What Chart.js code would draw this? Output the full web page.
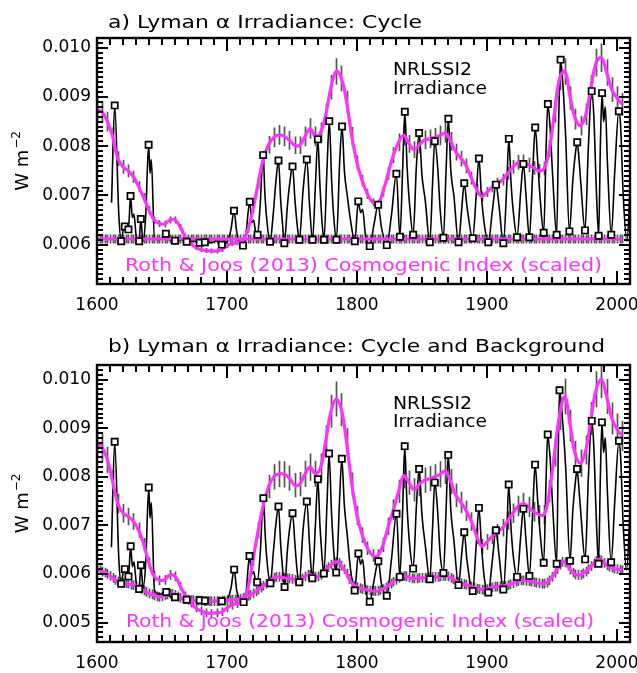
<!DOCTYPE html>
<html><head><meta charset="utf-8">
<script src="https://cdn.jsdelivr.net/npm/chart.js@4.4.0/dist/chart.umd.min.js"></script>
<style>
html,body{margin:0;padding:0;background:#fff;}
#wrap{position:relative;width:637px;height:673px;overflow:hidden;}
canvas{position:absolute;left:0;}
#ca{top:0;} #cb{top:320px;}
</style></head><body>
<div id="wrap"><canvas id="ca" width="637" height="320"></canvas><canvas id="cb" width="637" height="353"></canvas></div>
<script>
// all irradiance values in units of 1e-3 W m^-2
const yearTicks = [1600, 1700, 1800, 1900, 2000];
const yTicksA = [6, 7, 8, 9, 10];
const yTicksB = [5, 6, 7, 8, 9, 10];

// NRLSSI2 cycle irradiance: [year, value, square-marker flag]
const cycleA = [[1611.2,6.85],[1613.6,8.83,1],[1616.8,6.6],[1618.6,6.07,1],[1620.2,6.3],[1621.4,6.37,1],[1622.6,6.4],[1624.2,6.31,1],[1625.8,6.99,1],[1627.2,6.55],[1628.4,6.62],[1630.5,6.1],[1632.4,6.07,1],[1633.7,6.52,1],[1635.4,6.07],[1637.5,6.6],[1639.7,8.03,1],[1640.8,7.45],[1641.8,7.73],[1644.2,6.12],[1648,6.1],[1650.5,6.15],[1653,6.22,1],[1655.5,6.1],[1660,6.08,1],[1664,6.1],[1669,6.06,1],[1674,6.08],[1679,6.04,1],[1683,6.05,1],[1688,6.04],[1692,6.08],[1696,6.0,1],[1700,6.06],[1703,6.3],[1705.4,6.69,1],[1707.5,6.25],[1709.5,6.05],[1712.3,5.98,1],[1714.5,6.2],[1717.5,6.87,1],[1719,6.45],[1720.5,6.5],[1722,6.25],[1723.5,6.2,1],[1725.5,6.8],[1727.8,7.82,1],[1729.2,7.0],[1731,6.4],[1733.1,6.06,1],[1735.5,6.6],[1737.5,7.25],[1739.6,7.71,1],[1741.3,6.9],[1742.8,6.4],[1744.1,6.03,1],[1746.5,6.8],[1748.5,7.3],[1750.4,7.59,1],[1752.3,6.9],[1754,6.4],[1755.7,6.1,1],[1758.5,7.1],[1761.4,7.73,1],[1763.5,6.8],[1765.8,6.1,1],[1768,7.2],[1769.9,8.14,1],[1771.5,7.2],[1773,6.5],[1774.6,6.1,1],[1777,7.6],[1778.7,8.51,1],[1780.5,7.3],[1782.3,6.5],[1784.2,6.1,1],[1786.7,7.7],[1788.5,8.4,1],[1790.3,7.5],[1792.5,7.0],[1795,6.5],[1798.3,6.07,1],[1801,6.88,1],[1802.8,6.65],[1804.3,6.72],[1806.5,6.2],[1809.8,5.97,1],[1813,6.4],[1816.3,6.81,1],[1818.8,6.35],[1822.9,5.99,1],[1826.5,6.6],[1830.3,7.44,1],[1833,6.16,1],[1835.2,7.6],[1836.8,8.7,1],[1838.5,7.6],[1840.5,6.8],[1843.2,6.2,1],[1845.7,7.6],[1847.8,8.27,1],[1850,7.4],[1852.5,6.9],[1856,6.05,1],[1858.2,7.3],[1859.8,8.1,1],[1862,7.6],[1864,6.7],[1866.5,6.14,1],[1868.5,7.5],[1870.3,8.56,1],[1872.2,7.5],[1874.5,7.0],[1878.1,6.05,1],[1880.5,6.7],[1882.5,7.25,1],[1884.5,6.8],[1889,6.13,1],[1891.7,7.0],[1893.8,7.75,1],[1895.7,7.0],[1898,6.4],[1901,6.05,1],[1904.2,6.7],[1906.9,7.22,1],[1909.2,6.8],[1912.6,6.03,1],[1915.2,7.2],[1916.8,8.15,1],[1918.6,7.2],[1920.5,6.6],[1923.1,6.15,1],[1926,7.1],[1928,7.64,1],[1930,7.0],[1932.6,6.15,1],[1935.2,7.5],[1937.1,8.38,1],[1939,7.7],[1941,6.9],[1943.6,6.24,1],[1945.5,8.0],[1946.8,8.86,1],[1948.5,8.4],[1950.5,7.4],[1953.6,6.2,1],[1955.2,8.6],[1956.6,9.76,1],[1958.5,9.2],[1960.5,8.2],[1963.4,6.27,1],[1966,7.3],[1968.2,7.9],[1969.4,8.08,1],[1970.6,7.8],[1972.3,7.2],[1975.4,6.29,1],[1978,8.0],[1980.5,9.12,1],[1982.2,8.6],[1984,7.2],[1985.9,6.18,1],[1987.2,8.0],[1988.5,9.08,1],[1989.7,8.5],[1991,8.8],[1992.6,7.7],[1995.6,6.2,1],[1998.3,7.5],[2001.4,8.71,1],[2002.8,8.4],[2004.8,7.0],[2007.6,6.07],[2010.5,7.4]];

const cycleB = [[1611.1,6.55],[1613.6,8.72,1],[1616.8,6.3],[1618.6,5.8,1],[1620.2,6.05],[1621.4,6.1,1],[1622.6,6.05],[1624.2,5.95,1],[1625.9,6.57,1],[1627.2,6.15],[1628.4,6.25],[1630.5,5.75],[1632.4,5.69,1],[1633.8,6.18,1],[1635.4,5.7],[1637.5,6.25],[1639.8,7.78,1],[1640.8,7.15],[1641.8,7.47],[1644.2,5.67],[1648,5.58],[1650.5,5.6],[1653.3,5.63,1],[1655.5,5.55],[1660,5.52,1],[1664,5.5],[1669,5.47,1],[1674,5.47],[1679,5.46,1],[1683,5.45,1],[1688,5.43],[1692,5.44],[1696,5.44,1],[1700,5.46],[1703,5.7],[1705.5,6.09,1],[1707.5,5.65],[1709.5,5.48],[1712.8,5.42,1],[1714.8,5.65],[1717.3,6.37,1],[1719,6.0],[1720.5,6.05],[1722,5.85],[1723.2,5.83,1],[1725.5,6.4],[1728,7.56,1],[1729.4,6.8],[1731,6.2],[1733.4,5.81,1],[1735.5,6.4],[1737.5,7.0],[1739.6,7.39,1],[1741.3,6.6],[1742.8,6.1],[1744.3,5.73,1],[1746.5,6.5],[1748.5,7.0],[1750.4,7.25,1],[1752.3,6.6],[1754,6.05],[1755.6,5.83,1],[1758.5,6.9],[1761.4,7.49,1],[1763.5,6.6],[1765.6,5.91,1],[1768,7.0],[1769.9,7.95,1],[1771.5,7.0],[1773,6.4],[1774.5,6.01,1],[1777,7.5],[1778.5,8.48,1],[1780.5,7.2],[1782.3,6.4],[1784,6.03,1],[1786.7,7.6],[1788.3,8.37,1],[1790.3,7.4],[1792.5,6.8],[1795,6.1],[1798.2,5.66,1],[1801.1,6.42,1],[1802.8,6.2],[1804.3,6.3],[1806.5,5.7],[1809.8,5.43,1],[1813,5.85],[1816.4,6.26,1],[1818.8,5.8],[1822.9,5.55,1],[1826.5,6.3],[1830.4,7.24,1],[1832.9,5.94,1],[1835.2,7.4],[1836.7,8.63,1],[1838.5,7.4],[1840.5,6.6],[1843.2,6.11,1],[1845.7,7.4],[1847.8,8.16,1],[1850,7.2],[1852.5,6.6],[1856,5.89,1],[1858.2,7.0],[1859.8,7.88,1],[1862,7.3],[1864,6.4],[1866.5,6.02,1],[1868.5,7.3],[1870.2,8.45,1],[1872.2,7.3],[1874.5,6.7],[1878.1,5.77,1],[1880.5,6.4],[1882.5,6.86,1],[1884.5,6.3],[1889,5.65,1],[1891.7,6.6],[1893.8,7.36,1],[1895.7,6.6],[1898,5.9],[1901,5.62,1],[1904.2,6.3],[1906.9,6.9,1],[1909.2,6.4],[1912.6,5.68,1],[1915.2,6.8],[1916.7,7.84,1],[1918.6,6.9],[1920.5,6.3],[1923.1,5.94,1],[1926,6.8],[1928,7.34,1],[1930,6.7],[1932.6,5.96,1],[1935.2,7.3],[1937,8.25,1],[1939,7.5],[1941,6.8],[1943.6,6.23,1],[1945.5,8.0],[1946.7,8.87,1],[1948.5,8.4],[1950.5,7.4],[1953.6,6.21,1],[1954.8,8.5],[1955.8,9.78,1],[1958,9.2],[1960.5,8.2],[1963.9,6.27,1],[1966,7.3],[1968.2,7.95],[1969.3,8.16,1],[1970.6,7.8],[1972.3,7.2],[1975.5,6.3,1],[1978,8.0],[1980.6,9.15,1],[1982.2,8.6],[1984,7.2],[1985.8,6.21,1],[1987.2,8.0],[1988.4,9.12,1],[1989.7,8.5],[1991,8.8],[1992.6,7.7],[1995.5,6.24,1],[1998.3,7.5],[2001.5,8.74,1],[2002.8,8.4],[2004.8,7.0],[2007.3,6.08],[2010.5,7.6]];

// Cosmogenic index (scaled), cycle envelope: every 4 years from 1600
const envStart = 1600, envStep = 4;
const envA = [8.75,8.69,8.50,8.20,7.75,7.58,7.50,7.38,7.18,6.95,
  6.70,6.50,6.43,6.42,6.50,6.50,6.36,6.15,6.02,5.94,
  5.90,5.88,5.87,5.87,5.90,5.98,6.02,6.04,6.08,6.30,
  6.72,7.25,7.75,8.03,8.18,8.23,8.20,8.12,8.02,8.02,
  8.20,8.36,8.20,8.28,8.65,9.20,9.52,9.38,8.90,8.20,
  7.66,7.30,7.03,6.86,6.83,7.08,7.45,7.82,8.08,8.22,
  8.05,7.93,8.03,8.13,8.15,8.18,8.22,8.27,8.10,7.88,
  7.75,7.60,7.35,7.12,6.98,7.07,7.17,7.24,7.32,7.45,
  7.58,7.67,7.68,7.62,7.56,7.50,7.55,7.95,8.70,9.40,
  9.52,8.98,8.55,8.42,8.65,9.20,9.70,9.80,9.50,9.15,
  8.98,8.85];
const envErrA = [.23,.22,.20,.18,.15,.14,.13,.12,.11,.10,
  .08,.07,.07,.07,.07,.07,.06,.05,.05,.05,
  .05,.05,.05,.05,.05,.05,.05,.05,.05,.06,
  .08,.12,.16,.18,.20,.20,.20,.19,.18,.18,
  .20,.21,.20,.20,.22,.25,.27,.26,.23,.19,
  .15,.12,.10,.08,.08,.10,.13,.16,.18,.20,
  .18,.17,.18,.19,.19,.19,.20,.20,.19,.17,
  .16,.15,.13,.11,.10,.10,.11,.12,.12,.13,
  .14,.15,.15,.15,.14,.14,.14,.17,.22,.26,
  .27,.24,.21,.20,.22,.25,.28,.29,.27,.25,
  .24,.23];
const envB = [8.70,8.60,8.35,7.90,7.45,7.25,7.18,7.08,6.90,6.60,
  6.22,5.95,5.87,5.88,5.98,5.95,5.75,5.55,5.40,5.30,
  5.24,5.20,5.19,5.20,5.22,5.30,5.36,5.39,5.43,5.70,
  6.30,6.90,7.42,7.80,8.00,8.06,8.05,7.97,7.83,7.85,
  8.06,8.20,8.06,8.20,8.75,9.35,9.60,9.38,8.70,7.85,
  7.20,6.80,6.53,6.38,6.38,6.60,6.98,7.32,7.70,8.02,
  7.88,7.73,7.85,7.93,7.96,8.00,8.05,8.12,7.90,7.62,
  7.47,7.30,7.08,6.78,6.57,6.66,6.78,6.86,6.95,7.10,
  7.25,7.40,7.45,7.38,7.28,7.22,7.22,7.70,8.50,9.30,
  9.65,9.05,8.45,8.28,8.55,9.20,9.80,10.00,9.65,9.20,
  8.98,8.84];
const envErrB = [.30,.29,.27,.24,.20,.19,.18,.17,.16,.14,
  .12,.11,.10,.10,.10,.10,.09,.09,.09,.09,
  .09,.09,.09,.09,.09,.09,.09,.09,.09,.10,
  .13,.17,.21,.24,.26,.27,.27,.26,.25,.25,
  .27,.28,.27,.28,.31,.34,.36,.34,.30,.24,
  .20,.16,.14,.13,.13,.15,.18,.21,.24,.26,
  .25,.24,.25,.26,.26,.26,.27,.27,.26,.24,
  .22,.21,.19,.17,.15,.16,.17,.17,.18,.19,
  .20,.21,.22,.21,.20,.20,.20,.23,.29,.34,
  .37,.33,.29,.28,.30,.34,.37,.38,.36,.33,
  .32,.31];

// Cosmogenic index background (panel b): every 2 years from 1600
const bgStart = 1600, bgStep = 2;
const bgB = [6.10,6.08,6.05,6.03,6.00,5.96,5.92,5.88,5.85,5.83,
  5.82,5.81,5.80,5.78,5.77,5.75,5.72,5.69,5.66,5.63,
  5.60,5.58,5.56,5.54,5.53,5.54,5.56,5.58,5.59,5.59,
  5.57,5.54,5.51,5.49,5.48,5.47,5.46,5.46,5.45,5.45,
  5.45,5.44,5.44,5.44,5.44,5.44,5.44,5.44,5.45,5.45,
  5.46,5.46,5.47,5.47,5.48,5.49,5.51,5.53,5.55,5.57,
  5.60,5.64,5.68,5.72,5.76,5.80,5.84,5.88,5.92,5.94,
  5.94,5.93,5.92,5.91,5.91,5.90,5.88,5.87,5.88,5.91,
  5.95,5.98,5.98,5.96,5.94,5.95,5.98,6.03,6.09,6.14,
  6.19,6.23,6.25,6.23,6.17,6.10,6.00,5.90,5.81,5.76,
  5.73,5.71,5.69,5.68,5.67,5.66,5.65,5.65,5.65,5.67,
  5.69,5.72,5.76,5.80,5.84,5.88,5.92,5.95,5.96,5.95,
  5.93,5.91,5.91,5.91,5.92,5.92,5.92,5.93,5.93,5.94,
  5.94,5.94,5.95,5.96,5.96,5.95,5.92,5.89,5.86,5.83,
  5.81,5.79,5.78,5.76,5.74,5.72,5.70,5.69,5.68,5.68,
  5.69,5.71,5.73,5.74,5.74,5.75,5.75,5.76,5.77,5.79,
  5.81,5.84,5.86,5.87,5.87,5.86,5.85,5.84,5.83,5.82,
  5.81,5.80,5.80,5.82,5.87,5.94,6.02,6.10,6.19,6.25,
  6.24,6.17,6.09,6.03,5.99,5.98,5.98,6.01,6.05,6.10,
  6.16,6.22,6.27,6.30,6.28,6.23,6.18,6.15,6.13,6.11,
  6.10,6.09,6.08];
const bgErrB = 0.10;

// panel a: flat scaled cosmogenic background (constant), same 2-year sampling
const flatA = 6.115;
const flatErrA = 0.09;

const MAG = '#ff33ff';
const BAR = '#555555';
const FONT = 'DejaVu Sans';

function seq(start, step, vals) { return vals.map((v, i) => ({ x: start + step * i, y: v })); }

function fitText(ctx, text, x, y, w, size, color) {
  ctx.save();
  ctx.font = size + 'px "' + FONT + '"';
  ctx.fillStyle = color;
  ctx.textBaseline = 'alphabetic';
  ctx.textAlign = 'left';
  const m = ctx.measureText(text).width;
  ctx.translate(x, y);
  ctx.scale(w / m, 1);
  ctx.fillText(text, 0, 0);
  ctx.restore();
}

function decor(o) {
  return {
    id: 'decor',
    beforeDatasetsDraw(chart) {
      const ctx = chart.ctx, xs = chart.scales.x, ys = chart.scales.y, a = chart.chartArea;
      ctx.save();
      ctx.beginPath(); ctx.rect(a.left, a.top, a.right - a.left, a.bottom - a.top); ctx.clip();
      ctx.strokeStyle = BAR; ctx.lineWidth = 1.7;
      ctx.beginPath();
      o.bars.forEach(b => b.pts.forEach((p, i) => {
        const e = Array.isArray(b.err) ? b.err[i] : b.err;
        const x = Math.round(xs.getPixelForValue(p.x)) + 0.5;
        ctx.moveTo(x, ys.getPixelForValue(p.y + e));
        ctx.lineTo(x, ys.getPixelForValue(p.y - e));
      }));
      ctx.stroke();
      ctx.restore();
    },
    afterDraw(chart) {
      const ctx = chart.ctx, xs = chart.scales.x, ys = chart.scales.y, a = chart.chartArea;
      ctx.save();
      ctx.strokeStyle = '#000';
      ctx.lineWidth = 2.4;
      ctx.strokeRect(a.left, a.top, a.right - a.left, a.bottom - a.top);
      ctx.fillStyle = '#000';
      const L0 = Math.round(a.left), R0 = Math.round(a.right), T0 = Math.round(a.top), B0 = Math.round(a.bottom);
      for (let v = 1600; v <= 2010; v += 10) {
        const x = Math.round(xs.getPixelForValue(v)), L = (v % 100 === 0) ? 13 : 7;
        ctx.fillRect(x - 1, B0 - L, 2, L);
        ctx.fillRect(x - 1, T0, 2, L);
      }
      const t0 = Math.round(ys.min * 10), t1 = Math.round(ys.max * 10);
      for (let t = t0; t <= t1; t++) {
        const y = Math.round(ys.getPixelForValue(t / 10)), L = (t % 10 === 0) ? 11 : 6;
        ctx.fillRect(L0, y - 1, L, 2);
        ctx.fillRect(R0 - L, y - 1, L, 2);
      }
      ctx.restore();

      fitText(ctx, o.title, 108, o.titleY, o.titleW, 18, '#000');
      fitText(ctx, 'NRLSSI2', 393, o.n1Y, 79, 18, '#000');
      fitText(ctx, 'Irradiance', 393, o.n2Y, 94, 18, '#000');
      fitText(ctx, 'Roth & Joos (2013) Cosmogenic Index (scaled)', o.rjX, o.rjY, o.rjW, 18, MAG);

      // y-axis label
      ctx.save();
      const cy = (a.top + a.bottom) / 2;
      ctx.translate(28, cy);
      ctx.rotate(-Math.PI / 2);
      ctx.fillStyle = '#000';
      ctx.textBaseline = 'alphabetic';
      ctx.font = '18px "' + FONT + '"';
      const w1 = ctx.measureText('W m').width;
      ctx.font = '12px "' + FONT + '"';
      const w2 = ctx.measureText('\u22122').width;
      const s = -(w1 + w2 + 1) / 2;
      ctx.font = '18px "' + FONT + '"';
      ctx.fillText('W m', s, 0);
      ctx.font = '12px "' + FONT + '"';
      ctx.fillText('\u22122', s + w1 + 1, -8);
      ctx.restore();
    }
  };
}

function build(canvas, o) {
  const blackPts = o.cycle.map(p => ({ x: p[0], y: p[1] }));
  const sqPts = o.cycle.filter(p => p[2]).map(p => ({ x: p[0], y: p[1] }));
  const datasets = [
    { data: sqPts, showLine: false, pointStyle: 'rect', pointRadius: 4.4, pointBorderWidth: 1.7,
      pointBorderColor: '#000', pointBackgroundColor: '#fff', order: 0 },
    ...o.magenta.map(m => ({ data: m, borderColor: MAG, borderWidth: 3.2, pointRadius: 0,
      tension: 0.4, fill: false, order: 1 })),
    { data: blackPts, borderColor: '#000', borderWidth: 1.6, pointRadius: 0,
      cubicInterpolationMode: 'monotone', fill: false, order: 2 }
  ];
  return new Chart(canvas, {
    type: 'line',
    data: { datasets },
    options: {
      responsive: false, animation: false, devicePixelRatio: 1,
      layout: { padding: { left: 0, right: 7, top: o.top, bottom: 0 } },
      plugins: { legend: { display: false }, tooltip: { enabled: false }, title: { display: false } },
      scales: {
        x: {
          type: 'linear', min: 1600, max: 2010,
          grid: { display: false, drawTicks: false }, border: { display: false },
          ticks: { font: { family: FONT, size: 17 }, color: '#000', padding: 11, maxRotation: 0, autoSkip: false,
                   callback: v => String(v) },
          afterBuildTicks: s => { s.ticks = yearTicks.map(v => ({ value: v })); },
          afterFit: s => { s.height = o.xh; s.paddingLeft = 0; s.paddingRight = 0; }
        },
        y: {
          type: 'linear', min: o.ymin, max: o.ymax,
          grid: { display: false, drawTicks: false }, border: { display: false },
          ticks: { font: { family: FONT, size: 17 }, color: '#000', padding: 6, autoSkip: false,
                   callback: v => (v / 1000).toFixed(3) },
          afterBuildTicks: s => { s.ticks = o.yt.map(v => ({ value: v })); },
          afterFit: s => { s.width = 97; s.paddingTop = 0; s.paddingBottom = 0; }
        }
      }
    },
    plugins: [decor(o)]
  });
}

const envPtsA = seq(envStart, envStep, envA);
const envPtsB = seq(envStart, envStep, envB);
const bgPtsB = seq(bgStart, bgStep, bgB);
const flatPtsA = bgB.map((_, i) => ({ x: bgStart + bgStep * i, y: flatA }));

build(document.getElementById('ca'), {
  cycle: cycleA, magenta: [envPtsA, flatPtsA],
  bars: [{ pts: envPtsA, err: envErrA }, { pts: flatPtsA, err: flatErrA }],
  ymin: 5.2, ymax: 10.2, yt: yTicksA, top: 38, xh: 36,
  title: 'a) Lyman \u03b1 Irradiance: Cycle', titleY: 28, titleW: 314,
  n1Y: 75, n2Y: 94, rjX: 125, rjY: 271, rjW: 477
});
build(document.getElementById('cb'), {
  cycle: cycleB, magenta: [envPtsB, bgPtsB],
  bars: [{ pts: envPtsB, err: envErrB }, { pts: bgPtsB, err: bgErrB }],
  ymin: 4.6, ymax: 10.3, yt: yTicksB, top: 45, xh: 31,
  title: 'b) Lyman \u03b1 Irradiance: Cycle and Background', titleY: 32, titleW: 497,
  n1Y: 89, n2Y: 107, rjX: 126, rjY: 307, rjW: 468
});
</script>
</body></html>
